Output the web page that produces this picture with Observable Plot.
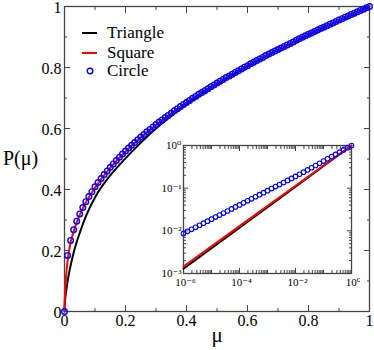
<!DOCTYPE html>
<html><head><meta charset="utf-8">
<script src="https://cdn.jsdelivr.net/npm/d3@7"></script>
<script src="https://cdn.jsdelivr.net/npm/@observablehq/plot@0.6"></script>
<style>
body{margin:0;background:#fff;}
#wrap{position:relative;width:374px;height:350px;font-family:"Liberation Serif","Times New Roman",Tinos,"DejaVu Serif",serif;}
#inset{position:absolute;left:150px;top:135px;}
.leg{position:absolute;left:82px;height:20px;display:flex;align-items:center;font-size:17px;font-family:"Liberation Serif","Times New Roman",Tinos,"DejaVu Serif",serif;}
.leg svg{margin-right:10px;}
</style></head><body><div id="wrap"></div>
<script>
// ---- data ----
const seriesNames = ["Triangle", "Square", "Circle"];
const seriesColors = ["#000000", "#ff0000", "#0000ff"];

// main panel: circles
const circleMu = [0,0.01,0.02,0.03,0.04,0.05,0.06,0.07,0.08,0.09,0.10,0.11,0.12,0.13,0.14,0.15,0.16,0.17,0.18,0.19,0.20,0.21,0.22,0.23,0.24,0.25,0.26,0.27,0.28,0.29,0.30,0.31,0.32,0.33,0.34,0.35,0.36,0.37,0.38,0.39,0.40,0.41,0.42,0.43,0.44,0.45,0.46,0.47,0.48,0.49,0.50,0.51,0.52,0.53,0.54,0.55,0.56,0.57,0.58,0.59,0.60,0.61,0.62,0.63,0.64,0.65,0.66,0.67,0.68,0.69,0.70,0.71,0.72,0.73,0.74,0.75,0.76,0.77,0.78,0.79,0.80,0.81,0.82,0.83,0.84,0.85,0.86,0.87,0.88,0.89,0.90,0.91,0.92,0.93,0.94,0.95,0.96,0.97,0.98,0.99,1.00];
const circleP = [0,0.184,0.233,0.268,0.296,0.320,0.341,0.360,0.377,0.393,0.409,0.423,0.436,0.449,0.461,0.473,0.484,0.495,0.506,0.516,0.526,0.536,0.545,0.554,0.563,0.572,0.580,0.589,0.597,0.605,0.613,0.621,0.628,0.636,0.643,0.650,0.658,0.665,0.672,0.679,0.685,0.692,0.699,0.705,0.712,0.718,0.724,0.730,0.737,0.743,0.749,0.755,0.761,0.767,0.772,0.778,0.784,0.789,0.795,0.801,0.806,0.812,0.817,0.823,0.828,0.833,0.839,0.844,0.849,0.854,0.859,0.864,0.869,0.874,0.879,0.884,0.889,0.894,0.899,0.904,0.909,0.913,0.918,0.923,0.928,0.932,0.937,0.942,0.946,0.951,0.956,0.960,0.965,0.969,0.974,0.978,0.983,0.987,0.991,0.996,1.000];

// main panel: lines
const lineMu = [0,0.0005,0.001,0.002,0.004,0.006,0.01,0.015,0.02,0.03,0.04,0.05,0.07,0.1,0.15,0.2,0.3,0.4,0.5,0.6,0.7,0.8,0.9,1];
const triangleP = [0,0.016,0.024,0.037,0.056,0.071,0.098,0.126,0.151,0.193,0.228,0.258,0.312,0.374,0.446,0.502,0.600,0.678,0.745,0.803,0.857,0.906,0.954,1];
const squareP = [0,0.030,0.045,0.068,0.100,0.125,0.165,0.200,0.226,0.262,0.292,0.317,0.358,0.406,0.471,0.524,0.611,0.684,0.748,0.805,0.858,0.908,0.955,1];

// inset (log-log)
const insetCircleMu = [1e-6,1.389e-6,1.931e-6,2.683e-6,3.728e-6,5.179e-6,7.197e-6,
  1e-5,1.389e-5,1.931e-5,2.683e-5,3.728e-5,5.179e-5,7.197e-5,
  1e-4,1.389e-4,1.931e-4,2.683e-4,3.728e-4,5.179e-4,7.197e-4,
  1e-3,1.389e-3,1.931e-3,2.683e-3,3.728e-3,5.179e-3,7.197e-3,
  1e-2,1.389e-2,1.931e-2,2.683e-2,3.728e-2,5.179e-2,7.197e-2,
  0.1,0.1389,0.1931,0.2683,0.3728,0.5179,0.7197,1];
const insetCircleP = [0.00871,0.00972,0.01084,0.01210,0.01352,0.01510,0.01683,
  0.01879,0.02099,0.02339,0.02612,0.02917,0.03258,0.03631,
  0.04055,0.04529,0.05047,0.05636,0.06295,0.07031,0.07834,
  0.08750,0.09772,0.1089,0.1216,0.1358,0.1517,0.1690,
  0.1888,0.2109,0.2371,0.2673,0.3013,0.3396,0.3828,
  0.4315,0.4875,0.5495,0.6194,0.6982,0.7870,0.8872,1.0];
const insetLineMu = [1e-6,1e-4,1e-2,1];
const insetTriangleP = [0.00129,0.01183,0.1088,1];
const insetSquareP = [0.00146,0.0129,0.1136,1];

// ticks
const mainTicks = [0,0.2,0.4,0.6,0.8,1];
const mainTickLabels = ["0","0.2","0.4","0.6","0.8","1"];
const mainMinorTicks = [0.1,0.3,0.5,0.7,0.9];
const insetXTicks = [1e-6,1e-4,1e-2,1];
const insetXLabels = ["10\u207B\u2076","10\u207B\u2074","10\u207B\u00B2","10\u2070"];
const insetYTicks = [1e-3,1e-2,1e-1,1];
const insetYLabels = ["10\u207B\u00B3","10\u207B\u00B2","10\u207B\u00B9","10\u2070"];
const insetDecades = [1e-6,1e-5,1e-4,1e-3,1e-2,1e-1];
const insetMinorMult = [2,3,4,5,6,7,8,9];

// ---- build ----
const FONT = "'Liberation Serif', 'Times New Roman', Tinos, 'DejaVu Serif', serif";
const zip = (xs, ys) => xs.map((x, i) => ({x, y: ys[i]}));
const mainFmt = d => mainTickLabels[mainTicks.indexOf(d)] ?? "";
const blank = () => "";
const AX = "#444";

const main = Plot.plot({
  width: 374, height: 350,
  marginLeft: 64, marginRight: 5, marginTop: 6, marginBottom: 39,
  x: {domain: [0, 1]}, y: {domain: [0, 1]},
  style: {fontFamily: FONT, fontSize: "16px", color: "#000", background: "transparent"},
  marks: [
    Plot.frame({stroke: AX, strokeWidth: 1.3}),
    Plot.axisX({ticks: mainTicks, tickSize: 0, tickPadding: 3, tickFormat: mainFmt, label: null, fontSize: 16}),
    Plot.axisY({ticks: mainTicks, tickSize: 0, tickPadding: 3, dy: 1.5, tickFormat: mainFmt, label: null, fontSize: 16}),
    Plot.axisX({ticks: mainTicks, tickSize: -6, tickFormat: blank, label: null, stroke: AX}),
    Plot.axisX({ticks: mainMinorTicks, tickSize: -3, tickFormat: blank, label: null, stroke: AX}),
    Plot.axisX({anchor: "top", ticks: mainTicks, tickSize: -6, tickFormat: blank, label: null, stroke: AX}),
    Plot.axisX({anchor: "top", ticks: mainMinorTicks, tickSize: -3, tickFormat: blank, label: null, stroke: AX}),
    Plot.axisY({ticks: mainTicks, tickSize: -6, tickFormat: blank, label: null, stroke: AX}),
    Plot.axisY({ticks: mainMinorTicks, tickSize: -3, tickFormat: blank, label: null, stroke: AX}),
    Plot.axisY({anchor: "right", ticks: mainTicks, tickSize: -6, tickFormat: blank, label: null, stroke: AX}),
    Plot.axisY({anchor: "right", ticks: mainMinorTicks, tickSize: -3, tickFormat: blank, label: null, stroke: AX}),
    Plot.line(zip(lineMu, triangleP), {x: "x", y: "y", stroke: seriesColors[0], strokeWidth: 2, curve: "monotone-x"}),
    Plot.line(zip(lineMu, squareP), {x: "x", y: "y", stroke: seriesColors[1], strokeWidth: 2, curve: "monotone-x"}),
    Plot.dot(zip(circleMu, circleP), {x: "x", y: "y", r: 2.8, stroke: seriesColors[2], strokeWidth: 1.4, fill: "none"}),
    Plot.text(["P(\u03BC)"], {frameAnchor: "left", dx: -44, fontSize: 20, textAnchor: "middle"}),
    Plot.text(["\u03BC"], {frameAnchor: "bottom", dy: 30, fontSize: 21})
  ]
});

const minorX = insetDecades.flatMap(d => insetMinorMult.map(m => d * m)).concat([1e-5, 1e-3, 1e-1]);
const minorY = insetDecades.slice(3).flatMap(d => insetMinorMult.map(m => d * m));
const insetXFmt = d => insetXLabels[insetXTicks.indexOf(d)] ?? "";
const insetYFmt = d => insetYLabels[insetYTicks.indexOf(d)] ?? "";

const inset = Plot.plot({
  width: 210, height: 160,
  marginLeft: 33, marginTop: 10, marginRight: 9, marginBottom: 22,
  x: {type: "log", domain: [1e-6, 1]}, y: {type: "log", domain: [1e-3, 1]},
  style: {fontFamily: FONT, fontSize: "11px", color: "#000", background: "transparent"},
  marks: [
    Plot.frame({stroke: AX, strokeWidth: 1.3}),
    Plot.axisX({ticks: insetXTicks, tickSize: 0, tickPadding: 5, dx: 2, tickFormat: insetXFmt, label: null}),
    Plot.axisY({ticks: insetYTicks, tickSize: 0, tickPadding: 2, tickFormat: insetYFmt, label: null}),
    Plot.axisX({ticks: insetXTicks, tickSize: -5, tickFormat: blank, label: null, stroke: AX}),
    Plot.axisX({ticks: minorX, tickSize: -3, tickFormat: blank, label: null, stroke: AX}),
    Plot.axisX({anchor: "top", ticks: insetXTicks, tickSize: -5, tickFormat: blank, label: null, stroke: AX}),
    Plot.axisX({anchor: "top", ticks: minorX, tickSize: -3, tickFormat: blank, label: null, stroke: AX}),
    Plot.axisY({ticks: insetYTicks, tickSize: -5, tickFormat: blank, label: null, stroke: AX}),
    Plot.axisY({ticks: minorY, tickSize: -3, tickFormat: blank, label: null, stroke: AX}),
    Plot.axisY({anchor: "right", ticks: insetYTicks, tickSize: -5, tickFormat: blank, label: null, stroke: AX}),
    Plot.axisY({anchor: "right", ticks: minorY, tickSize: -3, tickFormat: blank, label: null, stroke: AX}),
    Plot.line(zip(insetLineMu, insetTriangleP), {x: "x", y: "y", stroke: seriesColors[0], strokeWidth: 2}),
    Plot.line(zip(insetLineMu, insetSquareP), {x: "x", y: "y", stroke: seriesColors[1], strokeWidth: 2}),
    Plot.dot(zip(insetCircleMu, insetCircleP), {x: "x", y: "y", r: 2.3, stroke: seriesColors[2], strokeWidth: 1.1, fill: "none"})
  ]
});
inset.id = "inset";

const wrap = document.getElementById("wrap");
wrap.appendChild(main);
wrap.appendChild(inset);

// legend
const legendTops = [23, 43, 61];
seriesNames.forEach((name, i) => {
  const row = document.createElement("div");
  row.className = "leg";
  row.style.top = legendTops[i] + "px";
  const sym = i < 2
    ? `<svg width="15" height="20"><line x1="0" x2="15" y1="10" y2="10" stroke="${seriesColors[i]}" stroke-width="2"/></svg>`
    : `<svg width="15" height="20"><circle cx="8" cy="10" r="2.8" stroke="${seriesColors[i]}" stroke-width="1.4" fill="none"/></svg>`;
  row.innerHTML = sym + `<span>${name}</span>`;
  wrap.appendChild(row);
});
</script></body></html>
